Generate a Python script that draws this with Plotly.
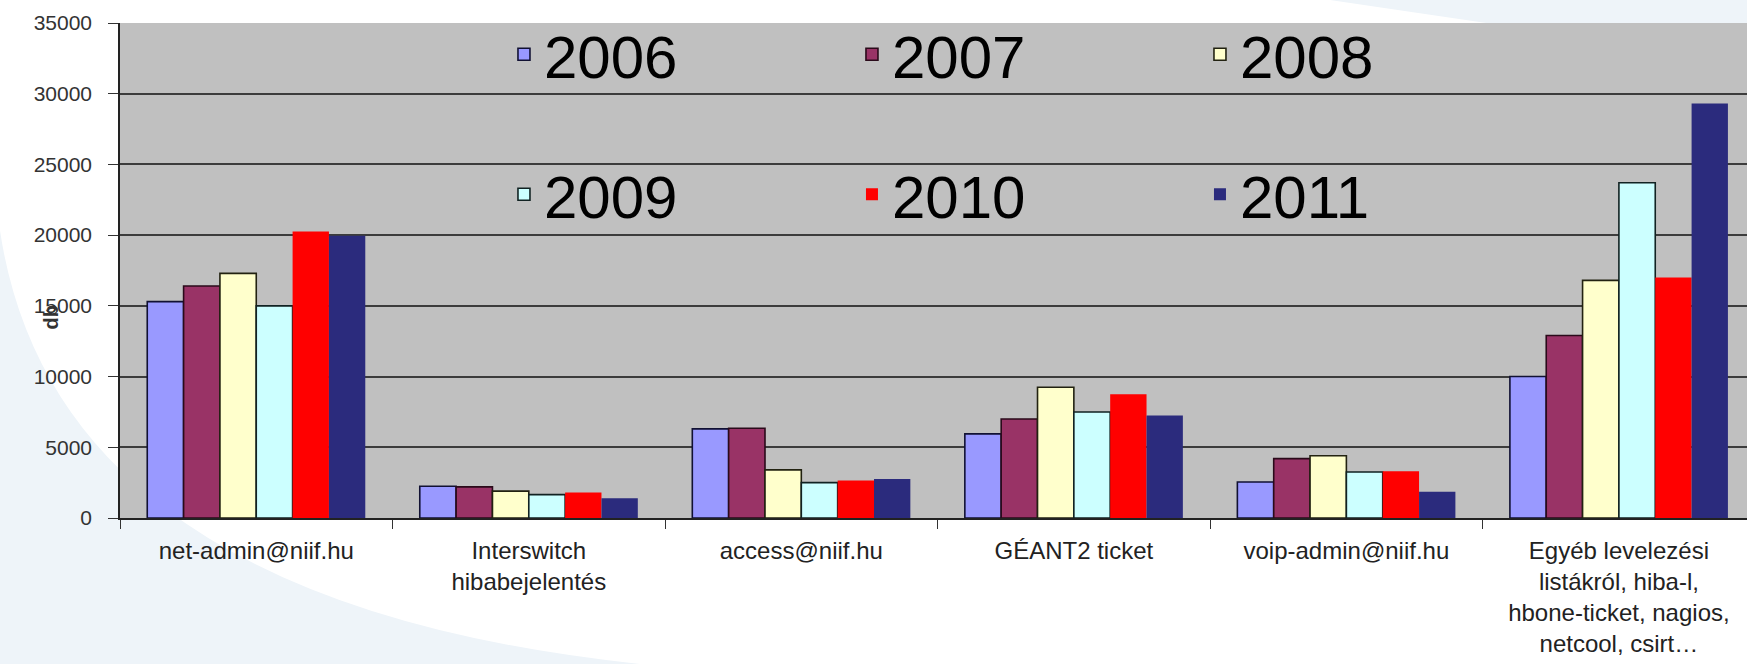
import plotly.graph_objects as go

categories = [
    "net-admin@niif.hu",
    "Interswitch<br>hibabejelentés",
    "access@niif.hu",
    "GÉANT2 ticket",
    "voip-admin@niif.hu",
    "Egyéb levelezési<br>listákról, hiba-l,<br>hbone-ticket, nagios,<br>netcool, csirt…",
]
years = ["2006", "2007", "2008", "2009", "2010", "2011"]

v2006 = [15300, 2250, 6300, 5950, 2550, 10000]
v2007 = [16400, 2200, 6350, 7000, 4200, 12900]
v2008 = [17300, 1900, 3400, 9250, 4400, 16800]
v2009 = [15000, 1650, 2500, 7500, 3250, 23700]
v2010 = [20250, 1800, 2650, 8750, 3300, 17000]
v2011 = [19950, 1400, 2750, 7250, 1850, 29300]
series = [v2006, v2007, v2008, v2009, v2010, v2011]

y_ticks = [0, 5000, 10000, 15000, 20000, 25000, 30000, 35000]

colors = ["#9999FF", "#993366", "#FFFFCC", "#CCFFFF", "#FF0000", "#2B2B7D"]
line_colors = ["#111133", "#2a0a1a", "#222211", "#112222", "#FF0000", "#2B2B7D"]
line_widths = [1.6, 1.6, 1.6, 1.6, 0, 0]
legends = ["legend", "legend", "legend", "legend2", "legend2", "legend2"]

fig = go.Figure()
for name, vals, c, lc, lw, lg in zip(years, series, colors, line_colors, line_widths, legends):
    fig.add_trace(go.Bar(
        x=categories, y=vals, name=name,
        marker=dict(color=c, line=dict(color=lc, width=lw)),
        legend=lg,
    ))

legend_common = dict(
    orientation="h",
    bgcolor="rgba(0,0,0,0)",
    font=dict(family="Liberation Sans, Arial, sans-serif", size=60, color="#000000"),
    entrywidth=303,
    entrywidthmode="pixels",
    xanchor="left",
    yanchor="middle",
    itemclick=False,
    itemdoubleclick=False,
)

swirl_color = "#EEF4F9"

fig.update_layout(
    width=1747, height=664,
    margin=dict(l=120, r=0, t=23, b=146),
    paper_bgcolor="#FFFFFF",
    plot_bgcolor="rgba(0,0,0,0)",
    barmode="group",
    bargap=0.2,
    bargroupgap=0,
    font=dict(family="Liberation Sans, Arial, sans-serif"),
    legend=dict(x=0.236, y=0.937, **legend_common),
    legend2=dict(x=0.236, y=0.654, **legend_common),
    xaxis=dict(
        type="category",
        range=[-0.5, 5.47],
        tickson="boundaries",
        ticks="outside", ticklen=9, tickcolor="#333333", tickwidth=1.2,
        ticklabelstandoff=10,
        showline=True, linecolor="#222222", linewidth=2,
        showgrid=False,
        tickfont=dict(size=24, color="#222222"),
        tickangle=0,
    ),
    yaxis=dict(
        range=[0, 35000],
        tickvals=y_ticks,
        ticktext=[str(t) for t in y_ticks],
        ticks="outside", ticklen=10, tickcolor="#333333", tickwidth=1.2,
        ticklabelstandoff=12,
        showline=True, linecolor="#222222", linewidth=1.5,
        showgrid=True, gridcolor="#3C3C3C", gridwidth=1.6,
        zeroline=False,
        tickfont=dict(size=21, color="#333333"),
    ),
    shapes=[
        dict(type="path", xref="paper", yref="paper", layer="below",
             path="M -0.0738,0.582 Q -0.04,-0.17 0.3196,-0.295 L -0.0738,-0.295 Z",
             fillcolor=swirl_color, line=dict(width=0)),
        dict(type="path", xref="paper", yref="paper", layer="below",
             path="M 0.7437,1.0465 Q 0.9096,0.9657 1,0.925 L 1,1.0465 Z",
             fillcolor=swirl_color, line=dict(width=0)),
        dict(type="rect", xref="paper", yref="paper", layer="below",
             x0=0, x1=1, y0=0, y1=1,
             fillcolor="#C0C0C0", line=dict(width=0)),
    ],
    annotations=[dict(
        text="<b>db</b>", textangle=-90, xref="paper", yref="paper",
        x=-0.043, y=0.405, xanchor="center", yanchor="middle", showarrow=False,
        font=dict(size=20, color="#333333"),
    )],
)

fig.write_html("out.html")
